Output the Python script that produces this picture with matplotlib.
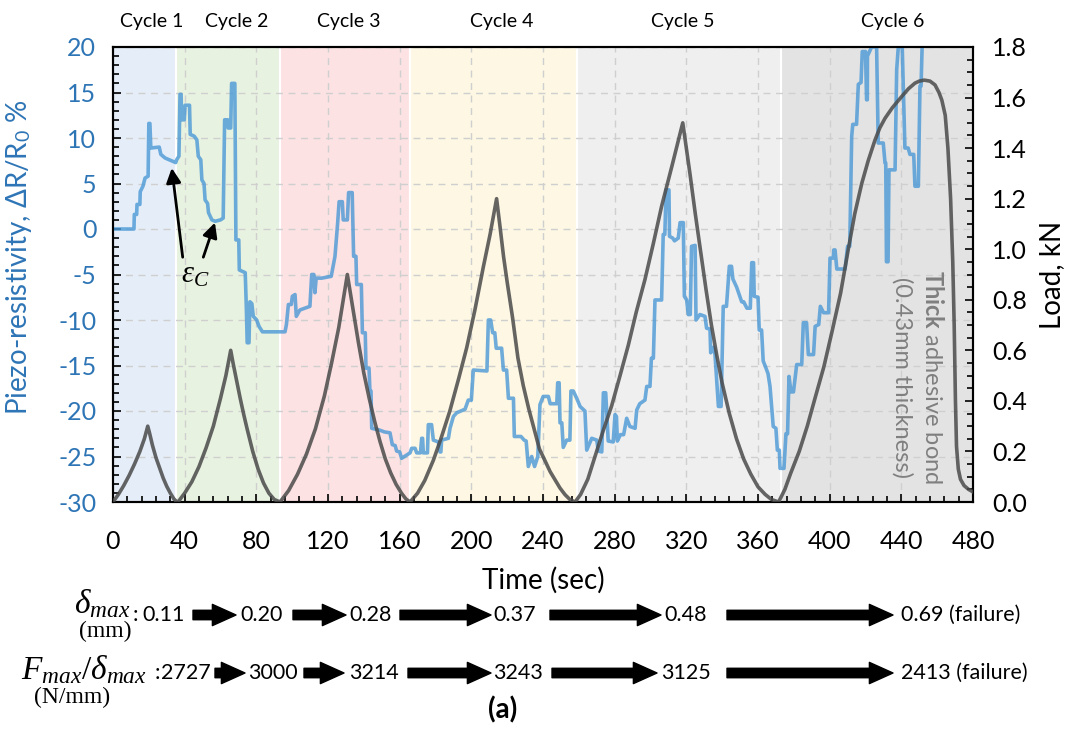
import numpy as np
import matplotlib
matplotlib.use('Agg')
import matplotlib.pyplot as plt
from matplotlib.patches import FancyArrowPatch
from matplotlib.ticker import MultipleLocator, FormatStrFormatter

plt.rcParams['font.family'] = ['Lato', 'DejaVu Sans']
plt.rcParams['axes.unicode_minus'] = False
plt.rcParams['mathtext.fontset'] = 'custom'
plt.rcParams['mathtext.rm'] = 'Liberation Serif'
plt.rcParams['mathtext.it'] = 'Liberation Serif:italic'
plt.rcParams['mathtext.bf'] = 'Lato:bold'
plt.rcParams['mathtext.sf'] = 'Lato'

# Piezo-resistivity signal (time in s, dR/R0 in %)
piezo_t = [0, 11.7, 11.9, 13.2, 13.4, 15.0, 15.2, 16.7, 17.9, 19.6, 20.0, 20.6, 21.1, 25.8, 26.7, 29.1, 35.0, 35.5,
           36.8, 37.4, 38.0, 38.3, 39.8, 40.2, 42.7, 43.1, 45.3, 46.8, 47.6, 49.0, 49.6, 50.8, 51.4, 52.8, 53.3,
           55.2, 57.0, 60.0, 61.5, 62.3, 64.0, 64.3, 65.7, 66.2, 68.0, 68.6, 70.2, 70.5, 73.8, 74.4, 74.9, 75.9,
           76.4, 77.5, 78.3, 80.2, 81.5, 83.4, 93.2,
           96.0, 96.8, 97.9, 99.5, 100.1, 101.6, 102.3, 104.3, 109.9, 110.9, 112.1, 112.7, 113.4, 116.5, 121.8,
           123.9, 125.4, 126.2, 128.0, 128.5, 130.8, 131.5, 133.5, 134.3, 135.6, 136.0, 138.6, 139.2, 140.8,
           141.2, 142.9, 143.4, 144.0, 144.4, 148.8, 151.5, 154.6, 155.9, 157.5, 158.3, 160.0, 161.1, 165.8,
           166.7, 168.6, 169.5, 171.6, 172.3, 172.8, 173.2, 175.5, 176.0, 177.8, 178.8, 181.6, 182.5, 183.0,
           183.4, 187.2, 188.1, 190.0, 191.8, 196.5, 198.3, 200.0, 201.1, 208.7, 209.5, 210.8, 211.9, 213.1,
           213.9, 216.9, 217.9, 219.7, 220.7, 223.5, 224.0, 227.7, 229.5, 230.6, 231.8, 233.7, 235.3, 237.1,
           238.3, 240.1, 243.0, 244.0, 247.7, 248.2, 249.0, 249.5, 250.5, 251.3, 253.2, 255.0, 255.6, 256.9,
           258.8, 260.7, 263.4, 264.4, 267.2, 270.0, 270.9, 272.8, 273.7, 275.0, 276.4, 279.2, 280.2, 281.0,
           281.5, 283.2, 285.0, 286.7, 288.5, 291.4, 292.3, 294.0, 296.9, 297.9, 299.7, 300.5, 301.6, 302.5,
           306.2, 307.1, 308.0, 308.7, 310.3, 310.6, 312.4, 313.4, 315.5, 316.5, 318.3, 318.9, 320.2, 321.1,
           322.2, 322.9, 324.9, 325.4, 327.6, 330.4, 331.3, 333.2, 333.6, 335.1, 336.0, 337.9, 339.4, 340.6,
           342.4, 344.0, 345.2, 346.0, 348.1, 350.9, 352.0, 353.8, 355.7, 356.5, 357.5, 357.9, 360.0, 360.7,
           362.0, 362.9, 364.3, 365.6, 366.7, 368.5, 370.0, 370.8, 371.9, 372.3, 374.5, 375.6, 376.5, 377.3,
           378.4, 379.8, 381.6, 384.4, 385.3, 387.1, 388.1, 391.0, 391.9, 393.9, 394.8, 396.6, 399.4, 400.2,
           402.0, 402.3, 403.0, 404.0, 408.6, 410.0, 411.2, 412.3, 412.9, 415.0, 416.0, 417.5, 418.2, 420.0,
           420.6, 421.0, 421.1, 423.4, 426.2, 427.1, 429.9, 430.9, 431.3, 431.7, 432.6, 433.1, 436.5, 437.4,
           438.3, 440.5, 442.0, 443.8, 444.8, 446.9, 447.6, 449.5, 450.4, 451.0, 451.6]
piezo_v = [0, 0, 1.6, 1.6, 2.7, 2.7, 4.1, 4.7, 5.6, 5.8, 11.6, 11.6, 8.9, 9.0, 8.2, 7.8, 7.3, 7.6,
           8.0, 14.8, 14.8, 12.0, 12.0, 13.6, 13.6, 10.4, 10.2, 9.8, 8.0, 7.6, 5.4, 5.0, 3.2, 2.8, 1.8,
           1.0, 0.85, 1.0, 1.2, 12.0, 12.0, 11.1, 11.1, 16.0, 16.0, -1.2, -1.2, -4.5, -4.8, -8.5, -12.5, -12.5,
           -8.0, -8.2, -9.6, -10.0, -10.7, -11.3, -11.3,
           -11.3, -10.5, -8.3, -8.3, -7.4, -7.2, -9.6, -8.9, -8.5, -5.0, -5.0, -7.0, -5.4, -5.4, -5.2,
           -3.0, 0.7, 3.0, 3.0, 1.0, 1.0, 4.0, 4.0, -3.0, -3.0, -6.1, -6.1, -11.4, -11.4,
           -15.3, -15.3, -17.8, -17.8, -21.9, -22.1, -22.3, -22.4, -23.7, -23.8, -24.4, -24.5, -25.2, -24.6,
           -24.1, -24.1, -24.6, -24.6, -23.0, -23.0, -24.6, -24.6, -21.5, -21.5, -23.2, -23.4, -24.5, -24.5,
           -23.2, -23.0, -21.9, -20.6, -20.2, -19.8, -18.8, -18.8, -15.5, -15.6, -10.0, -10.0, -11.4, -11.4,
           -13.1, -13.1, -15.5, -15.5, -18.6, -18.6, -22.8, -22.8, -23.2, -23.3, -26.1, -25.0, -26.1, -25.0,
           -19.3, -18.4, -18.4, -19.2, -19.2, -16.9, -16.9, -21.3, -21.3, -24.0, -23.2, -23.2, -17.8, -17.8,
           -18.6, -19.5, -20.0, -24.3, -23.0, -23.2, -24.4, -24.5, -18.0, -18.0, -23.3, -23.4, -20.4, -20.6,
           -23.3, -22.6, -22.6, -20.8, -21.7, -21.9, -19.9, -19.2, -18.8, -17.3, -17.3, -14.2, -14.2, -7.8,
           -7.8, -0.6, -0.6, 4.3, 4.3, -0.8, -1.0, -1.3, -1.0, 0.7, 0.7, -7.4, -7.8, -9.4,
           -9.4, -1.9, -1.8, -10.0, -9.4, -9.6, -10.9, -11.0, -13.6, -13.0, -13.8, -19.5, -19.5, -8.5,
           -8.5, -4.1, -4.1, -5.5, -6.4, -8.0, -8.0, -8.7, -8.7, -3.7, -3.7, -7.4, -7.5, -11.1,
           -11.1, -14.5, -15.2, -15.9, -17.3, -21.7, -21.9, -24.3, -24.3, -26.3, -26.3, -22.5, -22.5, -16.2,
           -17.9, -17.9, -14.9, -14.9, -10.3, -10.3, -13.8, -13.8, -10.7, -10.5, -8.5, -9.2, -9.2, -3.2,
           -3.2, -2.3, -2.3, -4.4, -4.4, -1.9, -1.9, 10.2, 11.5, 11.5, 15.9, 16.1, 19.5, 19.5,
           14.2, 14.2, 19.0, 20.0, 20.0, 9.45, 9.45, 7.25, 7.25, -3.6, -3.6, 6.5, 6.5, 17.5,
           20.0, 20.0, 8.9, 8.9, 8.2, 8.2, 4.7, 4.7, 15.7, 15.7, 20.0]

# Applied load (time in s, load in kN)
load_t = [0, 3, 6, 9, 12, 15, 17.5, 19.4, 20.5, 22, 24, 26, 28, 30, 32, 34, 35.7,
          36.3, 40, 44, 48, 52, 56, 60, 63, 65.7, 67, 69, 71, 73, 75, 78, 81, 84, 87, 90, 93.2,
          98, 103, 108, 113, 118, 122, 126, 130.8, 134, 137, 140, 143, 146, 149, 152, 155, 158, 161, 163.5, 165.8,
          170, 174, 178.8, 183, 188, 193, 197.4, 202, 206.7, 210.5, 214.1, 216, 218, 220, 223, 226, 229, 232,
          235, 238, 241, 244, 246.7, 249.5, 252.3, 255, 257.9,
          261, 265, 269, 273.5, 278.3, 283, 287.6, 292, 296.9, 301.5, 306.2, 312, 318, 320, 322, 325, 328,
          331, 334, 337, 340, 344, 348, 352, 356, 360, 364, 367.5, 371.5,
          375, 378.2, 383, 387.5, 392, 396.8, 401.5, 406.1, 410.4, 414, 417.9, 421.5, 425.3, 428, 430.9, 435,
          440.2, 444, 447.6, 450, 452.8, 456, 458.8, 461, 462.6, 464.5, 466, 467.5, 468.7, 469.5, 470.2,
          470.8, 471.8, 473, 475, 477.5, 480]
load_kn = [0, 0.03, 0.065, 0.105, 0.15, 0.2, 0.25, 0.30, 0.27, 0.225, 0.175, 0.135, 0.095, 0.062, 0.035, 0.012, 0,
           0, 0.035, 0.08, 0.14, 0.215, 0.30, 0.41, 0.50, 0.60, 0.55, 0.48, 0.41, 0.345, 0.285, 0.20, 0.13, 0.075,
           0.035, 0.01, 0,
           0.045, 0.11, 0.19, 0.29, 0.42, 0.55, 0.69, 0.90, 0.76, 0.63, 0.51, 0.41, 0.32, 0.24, 0.17, 0.115,
           0.07, 0.035, 0.012, 0,
           0.035, 0.085, 0.165, 0.25, 0.36, 0.49, 0.61, 0.76, 0.93, 1.06, 1.20, 1.09, 0.97, 0.87, 0.73, 0.57,
           0.46, 0.37, 0.29, 0.21, 0.165, 0.12, 0.088, 0.055, 0.029, 0.01, 0,
           0.03, 0.09, 0.18, 0.28, 0.38, 0.50, 0.62, 0.75, 0.88, 1.02, 1.17, 1.33, 1.50, 1.40, 1.30, 1.14, 0.99,
           0.84, 0.70, 0.58, 0.47, 0.35, 0.25, 0.17, 0.11, 0.06, 0.03, 0.01, 0,
           0.05, 0.113, 0.20, 0.30, 0.415, 0.536, 0.68, 0.826, 1.0, 1.14, 1.26, 1.35, 1.432, 1.48, 1.518, 1.56,
           1.604, 1.635, 1.657, 1.665, 1.669, 1.665, 1.65, 1.62, 1.59, 1.53, 1.40, 1.20, 0.95, 0.70, 0.40,
           0.22, 0.13, 0.09, 0.065, 0.05, 0.04]

cycle_names = ['Cycle 1', 'Cycle 2', 'Cycle 3', 'Cycle 4', 'Cycle 5', 'Cycle 6']
cycle_edges = [0, 35.3, 93.2, 165.8, 259.0, 372.6, 480]
cycle_label_x = [21.6, 68.9, 131.8, 216.9, 318.0, 435.2]
cycle_colors = ['#e5edf8', '#e8f2e0', '#fde2e3', '#fdf7e4', '#efefef', '#e3e3e3']

delta_max = [0.11, 0.20, 0.28, 0.37, 0.48, 0.69]
stiffness = [2727, 3000, 3214, 3243, 3125, 2413]

W, H = 1085, 729
fig = plt.figure(figsize=(W / 100, H / 100), dpi=100)
ax = fig.add_axes([113 / W, 1 - 502 / H, 860 / W, 455 / H])

blue = '#2E75B6'

for i in range(6):
    ax.axvspan(cycle_edges[i], cycle_edges[i + 1], facecolor=cycle_colors[i],
               edgecolor='white', lw=1.5, zorder=0.2)
    ax.text(cycle_label_x[i], 1.055, cycle_names[i], transform=ax.get_xaxis_transform(),
            ha='center', va='center', fontsize=14)

ax.set_axisbelow(True)
ax.grid(True, which='major', ls=(0, (5, 4)), color='#cfcfcf', lw=1)

ax.plot(piezo_t, piezo_v, color='#4a98d6', alpha=0.8, lw=2.6, zorder=3)

ax.set_xlim(0, 480)
ax.set_ylim(-30, 20)
ax.xaxis.set_major_locator(MultipleLocator(40))
ax.xaxis.set_minor_locator(MultipleLocator(8))
ax.yaxis.set_major_locator(MultipleLocator(5))
ax.yaxis.set_minor_locator(MultipleLocator(1))
ax.tick_params(which='both', direction='in', top=False, right=False, width=1.2)
ax.tick_params(which='major', length=6)
ax.tick_params(which='minor', length=4)
ax.tick_params(axis='x', labelsize=18, pad=20)
ax.tick_params(axis='y', labelsize=18, pad=12, labelcolor=blue)
ax.set_xlabel('Time (sec)', fontsize=20, labelpad=10)
ax.set_ylabel(r'Piezo-resistivity, ΔR/R$_{\mathsf{0}}$ %', fontsize=20, color=blue)
ax.yaxis.set_label_coords(-0.092, 0.538)

ax2 = ax.twinx()
ax2.plot(load_t, load_kn, color='#4a4a4a', alpha=0.85, lw=2.6, zorder=4)
ax2.set_ylim(0, 1.8)
ax2.yaxis.set_major_locator(MultipleLocator(0.2))
ax2.yaxis.set_minor_locator(MultipleLocator(0.05))
ax2.yaxis.set_major_formatter(FormatStrFormatter('%.1f'))
ax2.tick_params(which='both', direction='in', width=1.2)
ax2.tick_params(which='major', length=6, labelsize=18, pad=14)
ax2.tick_params(which='minor', length=4)
ax2.set_ylabel('Load, kN', fontsize=20, labelpad=8)

for a in (ax, ax2):
    for s in a.spines.values():
        s.set_linewidth(1.5)

# strain-sensitivity markers
ax.text(45.8, -5.1, r'$\varepsilon_C$', fontsize=22, ha='center', va='center')
arrow_kw = dict(arrowstyle='-|>', color='black', lw=2, mutation_scale=22, shrinkA=0, shrinkB=0)
ax.annotate('', xy=(32.8, 6.7), xytext=(38.9, -3.1), arrowprops=arrow_kw)
ax.annotate('', xy=(56.9, 0.7), xytext=(50.4, -3.1), arrowprops=arrow_kw)

ax.text(449.3, -16.3, '$\\mathbf{Thick}$ adhesive bond\n(0.43mm thickness)', rotation=-90,
        ha='center', va='center', multialignment='center', fontsize=17, color='#7f7f7f',
        linespacing=1.45, zorder=5)

# summary rows under the chart
def px(x, y):
    return x / W, 1 - y / H

row1_x = [142, 240, 349, 493, 664, 901]
row1_arrows = [(193, 236), (293, 346), (400, 491), (550, 661), (727, 893)]
row2_x = [161, 248, 349, 493, 661, 901]
row2_arrows = [(215, 245), (304, 344), (408, 491), (552, 657), (727, 893)]
y1, y2 = 615, 673

fig.text(*px(102, 604), r'$\delta_{max}$', fontsize=24, ha='center', va='center')
fig.text(*px(105, 631), '(mm)', fontsize=17, ha='center', va='center', family='Liberation Serif')
fig.text(*px(135, y1), ':', fontsize=16, ha='center', va='center')
fig.text(*px(84, 670), r'$F_{max}/\delta_{max}$', fontsize=24, ha='center', va='center')
fig.text(*px(72, 697), '(N/mm)', fontsize=17, ha='center', va='center', family='Liberation Serif')
fig.text(*px(157, y2), ':', fontsize=16, ha='center', va='center')

for i in range(6):
    s1 = f'{delta_max[i]:.2f}' + (' (failure)' if i == 5 else '')
    s2 = f'{stiffness[i]}' + (' (failure)' if i == 5 else '')
    fig.text(*px(row1_x[i], y1), s1, fontsize=15.5, ha='left', va='center')
    fig.text(*px(row2_x[i], y2), s2, fontsize=15.5, ha='left', va='center')

for (xa, xb), yy in [(a, y1) for a in row1_arrows] + [(a, y2) for a in row2_arrows]:
    fig.patches.append(FancyArrowPatch(px(xa, yy), px(xb, yy), transform=fig.transFigure,
                                       arrowstyle='simple,head_length=1.0,head_width=0.9,tail_width=0.4',
                                       mutation_scale=17, color='black', shrinkA=0, shrinkB=0))

fig.text(*px(503, 710), '(a)', fontsize=20, fontweight='bold', ha='center', va='center')

fig.savefig('out.png', dpi=100)
